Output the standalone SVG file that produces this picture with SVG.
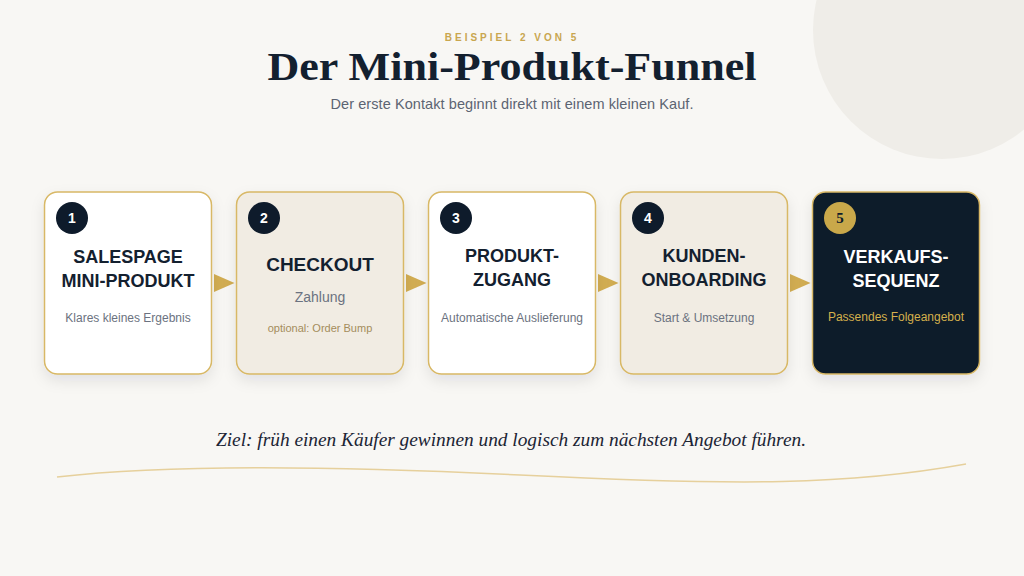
<svg xmlns="http://www.w3.org/2000/svg" width="1024" height="576" viewBox="0 0 1024 576">
<defs>
<filter id="sh" x="-20%" y="-20%" width="140%" height="150%">
<feDropShadow dx="0" dy="6" stdDeviation="7" flood-color="#1a2230" flood-opacity="0.09"/>
</filter>
<style>
.card{stroke:#d8b866;stroke-width:1.5}
.light{fill:#ffffff}
.beige{fill:#f1ece3}
.dark{fill:#0e1b2b}
.num{fill:#0e1b2b}
.numt{fill:#ffffff;font-family:"Liberation Sans",Arial,sans-serif;font-weight:bold;font-size:14px;text-anchor:middle}
.tt{fill:#13202f;font-family:"Liberation Sans",Arial,sans-serif;font-weight:bold;font-size:18px;text-anchor:middle}
.st{fill:#6b7280;font-family:"Liberation Sans",Arial,sans-serif;font-size:12px;text-anchor:middle}
.arrow{fill:#d2ad52}
</style>
</defs>
<rect x="0" y="0" width="1024" height="576" fill="#f8f7f4"/>
<circle cx="942" cy="30" r="129" fill="#efede8"/>
<text x="512" y="41" text-anchor="middle" font-family="'Liberation Sans',Arial,sans-serif" font-weight="bold" font-size="10px" letter-spacing="3" fill="#c9a64f">BEISPIEL 2 VON 5</text>
<text x="512" y="80" text-anchor="middle" font-family="'Liberation Serif','Times New Roman',serif" font-weight="bold" font-size="40px" textLength="489" lengthAdjust="spacingAndGlyphs" fill="#13202f">Der Mini-Produkt-Funnel</text>
<text x="512" y="109" text-anchor="middle" font-family="'Liberation Sans',Arial,sans-serif" font-size="14.5px" textLength="363" fill="#5c6472">Der erste Kontakt beginnt direkt mit einem kleinen Kauf.</text>

<g id="connectors">
<polygon class="arrow" points="214,274 234.5,283 214,292"/>
<polygon class="arrow" points="406,274 426.5,283 406,292"/>
<polygon class="arrow" points="598,274 618.5,283 598,292"/>
<polygon class="arrow" points="790,274 810.5,283 790,292"/>
</g>

<g id="node1">
<rect class="card light" x="44.5" y="192" width="167" height="182" rx="13" filter="url(#sh)"/>
<circle class="num" cx="72" cy="218" r="16"/>
<text class="numt" x="72" y="223">1</text>
<text class="tt" x="128" y="263">SALESPAGE</text>
<text class="tt" x="128" y="287">MINI-PRODUKT</text>
<text class="st" x="128" y="322">Klares kleines Ergebnis</text>
</g>

<g id="node2">
<rect class="card beige" x="236.5" y="192" width="167" height="182" rx="13" filter="url(#sh)"/>
<circle class="num" cx="264" cy="218" r="16"/>
<text class="numt" x="264" y="223">2</text>
<text class="tt" x="320" y="271" style="font-size:19px">CHECKOUT</text>
<text class="st" x="320" y="302" style="font-size:14px">Zahlung</text>
<text class="st" x="320" y="332" style="font-size:11px;fill:#a48c5c">optional: Order Bump</text>
</g>

<g id="node3">
<rect class="card light" x="428.5" y="192" width="167" height="182" rx="13" filter="url(#sh)"/>
<circle class="num" cx="456" cy="218" r="16"/>
<text class="numt" x="456" y="223">3</text>
<text class="tt" x="512" y="262">PRODUKT-</text>
<text class="tt" x="512" y="286">ZUGANG</text>
<text class="st" x="512" y="322">Automatische Auslieferung</text>
</g>

<g id="node4">
<rect class="card beige" x="620.5" y="192" width="167" height="182" rx="13" filter="url(#sh)"/>
<circle class="num" cx="648" cy="218" r="16"/>
<text class="numt" x="648" y="223">4</text>
<text class="tt" x="704" y="262">KUNDEN-</text>
<text class="tt" x="704" y="286">ONBOARDING</text>
<text class="st" x="704" y="322">Start &amp; Umsetzung</text>
</g>

<g id="node5">
<rect class="card dark" x="812.5" y="192" width="167" height="182" rx="13" filter="url(#sh)"/>
<circle cx="840" cy="218" r="16" fill="#c9a84a"/>
<text x="840" y="223" text-anchor="middle" font-family="'Liberation Serif','Times New Roman',serif" font-weight="bold" font-size="15px" fill="#0e1b2b">5</text>
<text class="tt" x="896" y="263" style="fill:#ffffff">VERKAUFS-</text>
<text class="tt" x="896" y="287" style="fill:#ffffff">SEQUENZ</text>
<text class="st" x="896" y="321" style="fill:#d4b04c">Passendes Folgeangebot</text>
</g>

<text x="511" y="446" text-anchor="middle" font-family="'Liberation Serif','Times New Roman',serif" font-style="italic" font-size="18px" textLength="590" lengthAdjust="spacingAndGlyphs" fill="#1c2535">Ziel: früh einen Käufer gewinnen und logisch zum nächsten Angebot führen.</text>
<path d="M57,477 C150,466 300,464 520,475 S850,485 966,464" fill="none" stroke="#e6d09c" stroke-width="1.5"/>
</svg>
